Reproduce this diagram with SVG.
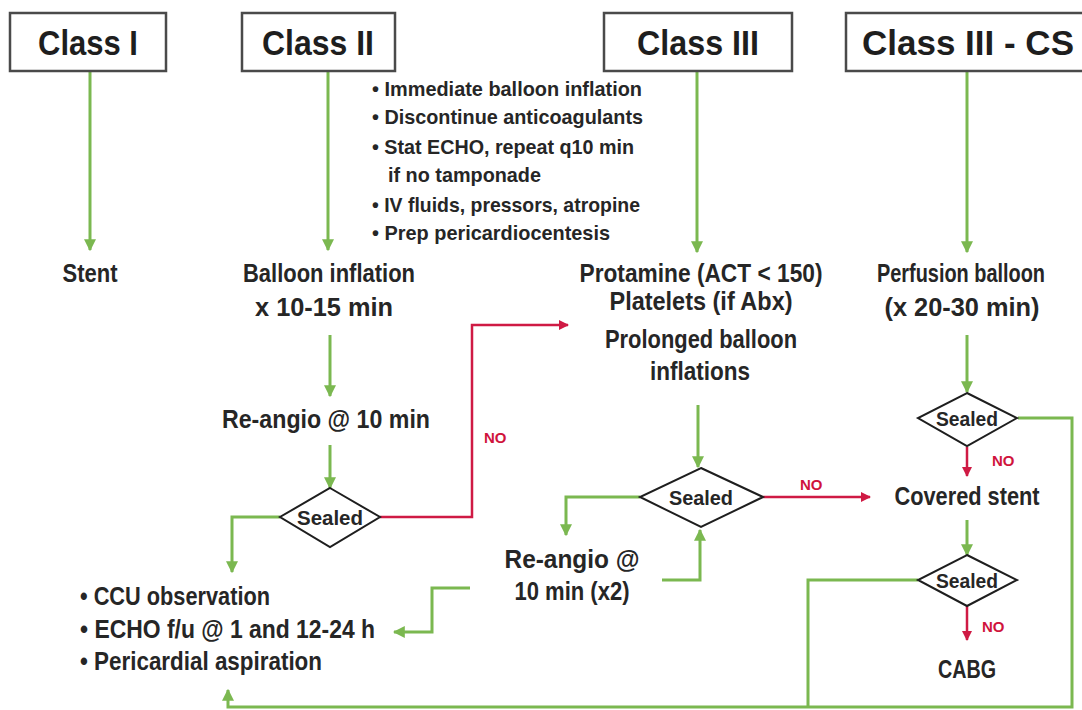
<svg xmlns="http://www.w3.org/2000/svg" width="1082" height="710" viewBox="0 0 1082 710">
  <defs>
    <style>
      .hdr { fill: #ffffff; stroke: #4a4a4a; stroke-width: 2.5; }
      .hdrt { font-family: "Liberation Sans", Arial, sans-serif; font-weight: bold; font-size: 35px; fill: #1e1e1e; text-anchor: middle; }
      .lbl { font-family: "Liberation Sans", Arial, sans-serif; font-weight: bold; font-size: 25px; fill: #262626; text-anchor: middle; }
      .bul { font-family: "Liberation Sans", Arial, sans-serif; font-weight: bold; font-size: 21px; fill: #262626; }
      .dia { fill: #ffffff; stroke: #1e1e1e; stroke-width: 2; }
      .dt { font-family: "Liberation Sans", Arial, sans-serif; font-weight: bold; font-size: 21px; fill: #262626; text-anchor: middle; }
      .no { font-family: "Liberation Sans", Arial, sans-serif; font-size: 15px; font-weight: bold; fill: #d0143c; }
      .g { fill: none; stroke: #7bb850; stroke-width: 3; }
      .r { fill: none; stroke: #cf1a44; stroke-width: 2.5; }
    </style>
    <marker id="ag" viewBox="0 0 10 10" refX="9" refY="5" markerWidth="4" markerHeight="4" orient="auto" markerUnits="strokeWidth">
      <path d="M0,0 L10,5 L0,10 z" fill="#7bb850"/>
    </marker>
    <marker id="ar" viewBox="0 0 10 10" refX="9" refY="5" markerWidth="4" markerHeight="4" orient="auto" markerUnits="strokeWidth">
      <path d="M0,0 L10,5 L0,10 z" fill="#cf1a44"/>
    </marker>
  </defs>

  <rect width="1082" height="710" fill="#ffffff"/>

  <!-- connectors -->
  <g id="connectors">
    <!-- class columns -->
    <path class="g" d="M90,71 V250" marker-end="url(#ag)"/>
    <path class="g" d="M328,71 V250" marker-end="url(#ag)"/>
    <path class="g" d="M697,71 V252" marker-end="url(#ag)"/>
    <path class="g" d="M967,71 V252" marker-end="url(#ag)"/>
    <!-- class II chain -->
    <path class="g" d="M330,335 V396" marker-end="url(#ag)"/>
    <path class="g" d="M330,445 V488" marker-end="url(#ag)"/>
    <path class="g" d="M280,517 H232 V572" marker-end="url(#ag)"/>
    <path class="r" d="M380,517 H472 V325 H568" marker-end="url(#ar)"/>
    <!-- class III chain -->
    <path class="g" d="M698,405 V467" marker-end="url(#ag)"/>
    <path class="r" d="M763,497 H870" marker-end="url(#ar)"/>
    <path class="g" d="M640,497 H566 V535" marker-end="url(#ag)"/>
    <path class="g" d="M662,580 H700 V530" marker-end="url(#ag)"/>
    <path class="g" d="M470,588 H432 V632 H394" marker-end="url(#ag)"/>
    <!-- class III - CS chain -->
    <path class="g" d="M967,335 V392" marker-end="url(#ag)"/>
    <path class="r" d="M967,447 V476" marker-end="url(#ar)"/>
    <path class="g" d="M967,520 V555" marker-end="url(#ag)"/>
    <path class="r" d="M967,606 V640" marker-end="url(#ar)"/>
    <path class="g" d="M1018,418 H1072 V707 H228 V690" marker-end="url(#ag)"/>
    <path class="g" d="M918,580 H808 V707"/>
  </g>

  <!-- class headers -->
  <g id="class1">
    <rect class="hdr" x="10" y="13" width="156" height="58"/>
    <text class="hdrt" x="88" y="55" textLength="100" lengthAdjust="spacingAndGlyphs">Class I</text>
  </g>
  <g id="class2">
    <rect class="hdr" x="242" y="13" width="153" height="58"/>
    <text class="hdrt" x="318" y="55" textLength="112" lengthAdjust="spacingAndGlyphs">Class II</text>
  </g>
  <g id="class3">
    <rect class="hdr" x="604" y="13" width="188" height="58"/>
    <text class="hdrt" x="698" y="55" textLength="122" lengthAdjust="spacingAndGlyphs">Class III</text>
  </g>
  <g id="class3cs">
    <rect class="hdr" x="846" y="13" width="250" height="58"/>
    <text class="hdrt" x="968" y="55" textLength="212" lengthAdjust="spacingAndGlyphs">Class III - CS</text>
  </g>

  <!-- class II immediate measures -->
  <g id="measures">
    <text class="bul" x="372" y="96" textLength="270" lengthAdjust="spacingAndGlyphs">• Immediate balloon inflation</text>
    <text class="bul" x="372" y="124" textLength="271" lengthAdjust="spacingAndGlyphs">• Discontinue anticoagulants</text>
    <text class="bul" x="372" y="154" textLength="262" lengthAdjust="spacingAndGlyphs">• Stat ECHO, repeat q10 min</text>
    <text class="bul" x="388" y="182" textLength="153" lengthAdjust="spacingAndGlyphs">if no tamponade</text>
    <text class="bul" x="372" y="212" textLength="268" lengthAdjust="spacingAndGlyphs">• IV fluids, pressors, atropine</text>
    <text class="bul" x="372" y="240" textLength="238" lengthAdjust="spacingAndGlyphs">• Prep pericardiocentesis</text>
  </g>

  <g id="stent">
    <text class="lbl" x="90" y="282" textLength="55" lengthAdjust="spacingAndGlyphs">Stent</text>
  </g>

  <g id="balloon">
    <text class="lbl" x="329" y="282" textLength="172" lengthAdjust="spacingAndGlyphs">Balloon inflation</text>
    <text class="lbl" x="324" y="316" textLength="138" lengthAdjust="spacingAndGlyphs">x 10-15 min</text>
  </g>

  <g id="reangio1">
    <text class="lbl" x="326" y="428" textLength="208" lengthAdjust="spacingAndGlyphs">Re-angio @ 10 min</text>
  </g>

  <g id="sealed1">
    <polygon class="dia" points="330,488 380,517 330,547 280,517"/>
    <text class="dt" x="330" y="525" textLength="66" lengthAdjust="spacingAndGlyphs">Sealed</text>
  </g>
  <text class="no" x="484" y="443">NO</text>

  <g id="protamine">
    <text class="lbl" x="701" y="282" textLength="243" lengthAdjust="spacingAndGlyphs">Protamine (ACT &lt; 150)</text>
    <text class="lbl" x="701" y="310" textLength="183" lengthAdjust="spacingAndGlyphs">Platelets (if Abx)</text>
    <text class="lbl" x="701" y="348" textLength="192" lengthAdjust="spacingAndGlyphs">Prolonged balloon</text>
    <text class="lbl" x="700" y="380" textLength="100" lengthAdjust="spacingAndGlyphs">inflations</text>
  </g>

  <g id="sealed2">
    <polygon class="dia" points="701,468 763,497 701,527 640,497"/>
    <text class="dt" x="701" y="505" textLength="64" lengthAdjust="spacingAndGlyphs">Sealed</text>
  </g>
  <text class="no" x="800" y="490">NO</text>

  <g id="reangio2">
    <text class="lbl" x="572" y="568" textLength="135" lengthAdjust="spacingAndGlyphs">Re-angio @</text>
    <text class="lbl" x="572" y="600" textLength="115" lengthAdjust="spacingAndGlyphs">10 min (x2)</text>
  </g>

  <g id="ccu">
    <text class="lbl" x="80" y="605" style="text-anchor:start" textLength="190" lengthAdjust="spacingAndGlyphs">• CCU observation</text>
    <text class="lbl" x="80" y="638" style="text-anchor:start" textLength="295" lengthAdjust="spacingAndGlyphs">• ECHO f/u @ 1 and 12-24 h</text>
    <text class="lbl" x="80" y="670" style="text-anchor:start" textLength="242" lengthAdjust="spacingAndGlyphs">• Pericardial aspiration</text>
  </g>

  <g id="perfusion">
    <text class="lbl" x="961" y="282" textLength="168" lengthAdjust="spacingAndGlyphs">Perfusion balloon</text>
    <text class="lbl" x="962" y="316" textLength="155" lengthAdjust="spacingAndGlyphs">(x 20-30 min)</text>
  </g>

  <g id="sealed3">
    <polygon class="dia" points="967,393 1017,418 967,446 918,418"/>
    <text class="dt" x="967" y="426" textLength="62" lengthAdjust="spacingAndGlyphs">Sealed</text>
  </g>
  <text class="no" x="992" y="466">NO</text>

  <g id="covered">
    <text class="lbl" x="967" y="505" textLength="145" lengthAdjust="spacingAndGlyphs">Covered stent</text>
  </g>

  <g id="sealed4">
    <polygon class="dia" points="967,555 1017,580 967,606 918,580"/>
    <text class="dt" x="967" y="588" textLength="62" lengthAdjust="spacingAndGlyphs">Sealed</text>
  </g>
  <text class="no" x="982" y="632">NO</text>

  <g id="cabg">
    <text class="lbl" x="967" y="678" textLength="58" lengthAdjust="spacingAndGlyphs">CABG</text>
  </g>
</svg>
